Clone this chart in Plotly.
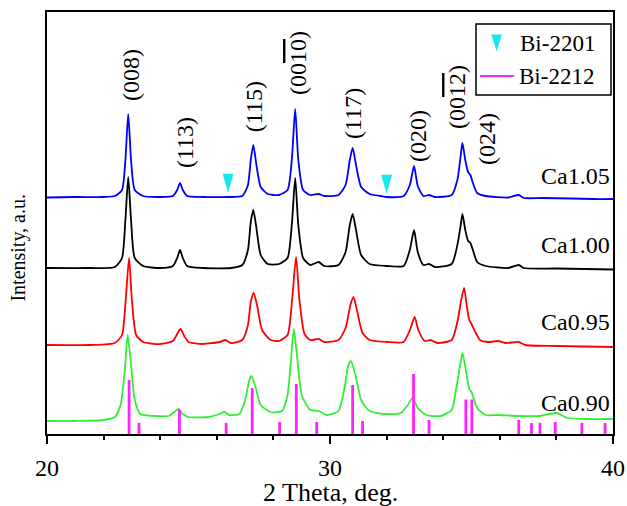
import plotly.graph_objects as go

# ---------------- data ----------------
theta_ca105 = [20.0, 21.0, 22.0, 22.4, 22.65, 22.77, 22.87, 22.97, 23.1, 23.4, 24.0, 24.45, 24.6, 24.7, 24.8, 24.95,
               25.5, 26.4, 26.9, 27.1, 27.2, 27.29, 27.4, 27.55, 27.8, 28.2, 28.5, 28.65, 28.77, 28.88, 29.05, 29.3,
               29.6, 29.8, 30.3, 30.55, 30.7, 30.8, 30.92, 31.1, 31.4, 31.8, 32.0, 32.6, 32.82, 32.97, 33.1, 33.3,
               33.5, 33.7, 34.3, 34.5, 34.62, 34.68, 34.78, 34.88, 34.96, 35.05, 35.2, 35.5, 36.3, 36.67, 36.85,
               37.5, 38.5, 39.3, 40.0]
int_ca105 = [236.5, 237, 237, 238, 244, 274, 320, 274, 244, 238, 237, 238, 244, 251, 244, 238,
             237, 237, 238, 249, 274, 289, 269, 247, 240, 239, 244, 274, 325, 274, 244, 239,
             240, 238, 239, 249, 274, 286, 269, 247, 240, 238, 237, 238, 249, 268, 248, 238,
             239, 237, 239, 254, 279, 291, 274, 262, 259, 251, 241, 238, 236.5, 239, 236,
             236, 235.5, 235, 235]

theta_ca100 = [20.0, 21.5, 22.4, 22.65, 22.77, 22.87, 22.97, 23.1, 23.4, 24.0, 24.45, 24.6, 24.7, 24.8, 24.95,
               25.5, 26.5, 26.9, 27.1, 27.2, 27.29, 27.4, 27.55, 27.8, 28.2, 28.5, 28.65, 28.77, 28.88, 29.05,
               29.3, 29.6, 29.8, 30.3, 30.55, 30.7, 30.8, 30.92, 31.1, 31.4, 32.0, 32.6, 32.82, 32.97, 33.1,
               33.3, 33.5, 33.7, 34.3, 34.5, 34.62, 34.68, 34.78, 34.88, 34.96, 35.05, 35.2, 35.5, 36.3, 36.67,
               36.85, 38.0, 40.0]
int_ca100 = [166, 166, 167, 176, 214, 257, 214, 176, 168, 166, 168, 176, 184, 176, 168,
             166, 166, 169, 184, 212, 224, 206, 179, 170, 170, 176, 209, 256, 209, 176,
             169, 172, 168, 169, 182, 209, 220, 204, 179, 170, 168, 168, 184, 204, 182,
             169, 170, 167, 170, 189, 209, 220, 204, 193, 191, 184, 172, 168, 166, 169,
             166, 165.5, 164.5]

theta_ca095 = [20.0, 21.5, 22.4, 22.65, 22.78, 22.9, 23.0, 23.15, 23.4, 24.0, 24.45, 24.6, 24.72, 24.85, 25.0,
               25.5, 26.1, 26.3, 26.5, 26.9, 27.1, 27.2, 27.3, 27.42, 27.6, 27.9, 28.2, 28.5, 28.66, 28.8,
               28.92, 29.1, 29.3, 29.6, 29.8, 30.3, 30.55, 30.72, 30.83, 30.95, 31.15, 31.4, 32.0, 32.6, 32.85,
               32.99, 33.12, 33.35, 33.55, 33.8, 34.3, 34.5, 34.65, 34.74, 34.83, 34.92, 34.98, 35.1, 35.3,
               35.6, 35.94, 36.2, 36.67, 36.9, 38.0, 40.0]
int_ca095 = [89, 89, 91, 99, 134, 176, 134, 99, 92, 90, 93, 100, 105, 98, 92,
             90, 92, 94, 91, 94, 109, 132, 141, 129, 104, 94, 93, 99, 134, 177,
             134, 100, 94, 95, 92, 94, 106, 129, 137, 124, 101, 94, 92, 92, 106,
             117, 104, 93, 94, 91, 94, 112, 136, 146, 129, 114, 111, 104, 94,
             92, 93, 91, 92, 89, 88, 87]

theta_ca090 = [20.0, 21.0, 22.0, 22.4, 22.6, 22.75, 22.85, 22.97, 23.1, 23.3, 23.8, 24.3, 24.5, 24.65, 24.8,
               25.0, 25.7, 26.1, 26.26, 26.45, 26.8, 27.0, 27.15, 27.22, 27.35, 27.55, 27.9, 28.3, 28.5, 28.62,
               28.72, 28.85, 29.0, 29.3, 29.6, 29.9, 30.3, 30.5, 30.65, 30.74, 30.9, 31.1, 31.4, 32.0, 32.5,
               32.75, 32.92, 33.1, 33.4, 33.9, 34.3, 34.45, 34.6, 34.68, 34.8, 34.92, 35.0, 35.2, 35.5, 35.94,
               36.67, 37.4, 38.0, 38.4, 39.0, 40.0]
int_ca090 = [13, 13, 14, 17, 29, 64, 99, 69, 34, 20, 18, 18, 22, 25, 20,
             17, 17, 20, 22, 19, 20, 34, 54, 58, 49, 29, 22, 23, 39, 74,
             105, 74, 39, 24, 23, 19, 23, 44, 69, 73, 59, 34, 23, 20, 21,
             29, 36, 26, 19, 18, 24, 44, 69, 81, 64, 45, 42, 26, 19, 19,
             18, 18, 21, 16, 15, 15]

# Bi-2212 reference lines
theta_bi2212 = [22.90, 23.25, 24.68, 26.33, 27.25, 28.22, 28.81, 29.53, 30.80, 31.15,
                32.95, 33.50, 34.80, 35.01, 36.67, 37.12, 37.42, 37.96, 38.90, 39.72]
height_bi2212 = [54, 11, 24, 11, 46, 12, 50, 12, 49, 13,
                 60, 14, 34.5, 34.5, 14, 11, 11, 12, 11, 11]

# Bi-2201 markers (tip positions)
theta_bi2201 = [26.40, 32.00]
tip_bi2201 = [242, 241]

series_names = ["Ca1.05", "Ca1.00", "Ca0.95", "Ca0.90"]
series_label_y = [258, 189, 112, 31]

peak_labels = ["(008)", "(113)", "(115)",
               "(00<span style=\"text-decoration:overline\">10</span>)",
               "(117)", "(020)",
               "(00<span style=\"text-decoration:overline\">12</span>)",
               "(024)"]
peak_label_x = [22.97, 24.88, 27.32, 28.87, 30.81, 33.11, 34.49, 35.55]
peak_label_y = [359, 291, 327, 371, 321, 298, 337, 295]

legend_names = ["Bi-2201", "Bi-2212"]

# ---------------- styling ----------------
FONT = "Liberation Serif, Times New Roman, serif"
colors = ["#0000ff", "#000000", "#ff0000", "#33ee33"]
CYAN = "#19e6ef"
MAGENTA = "#ff22ff"
thetas = [theta_ca105, theta_ca100, theta_ca095, theta_ca090]
ints = [int_ca105, int_ca100, int_ca095, int_ca090]

fig = go.Figure()

for name, tx, iy, c in zip(series_names, thetas, ints, colors):
    fig.add_trace(go.Scatter(x=tx, y=iy, mode="lines",
                             line=dict(color=c, width=1.8, shape="spline", smoothing=0.6),
                             name=name, showlegend=False))

# Bi-2212 sticks
sx, sy = [], []
for t, h in zip(theta_bi2212, height_bi2212):
    sx += [t, t, None]
    sy += [0, h, None]
fig.add_trace(go.Scatter(x=sx, y=sy, mode="lines", line=dict(color=MAGENTA, width=2.8),
                         name=legend_names[1], showlegend=False))

# Bi-2201 triangles (narrow, pointing down)
half_w = 0.18
tri_h = 18
tx_, ty_ = [], []
for t, tip in zip(theta_bi2201, tip_bi2201):
    tx_ += [t - half_w, t + half_w, t, t - half_w, None]
    ty_ += [tip + tri_h, tip + tri_h, tip, tip + tri_h, None]
fig.add_trace(go.Scatter(x=tx_, y=ty_, mode="lines", fill="toself", fillcolor=CYAN,
                         line=dict(color=CYAN, width=0.5), name=legend_names[0],
                         showlegend=False, hoverinfo="skip"))

annotations = []
for name, yv in zip(series_names, series_label_y):
    annotations.append(dict(x=40, y=yv, xref="x", yref="y", text=name, showarrow=False,
                            xanchor="right", yanchor="middle", xshift=-1,
                            font=dict(family=FONT, size=24, color="black")))
for txt, xv, yv in zip(peak_labels, peak_label_x, peak_label_y):
    annotations.append(dict(x=xv, y=yv, xref="x", yref="y", text=txt, showarrow=False,
                            textangle=-90, xanchor="center", yanchor="middle",
                            font=dict(family=FONT, size=24, color="black")))
annotations.append(dict(x=30, y=-0.139, xref="x", yref="paper", text="2 Theta, deg.",
                        showarrow=False, xanchor="center", yanchor="middle",
                        font=dict(family=FONT, size=26, color="black")))
annotations.append(dict(x=-0.052, y=186, xref="paper", yref="y", text="Intensity, a.u.",
                        showarrow=False, textangle=-90, xanchor="center", yanchor="middle",
                        font=dict(family=FONT, size=20, color="black")))

# legend box drawn by hand (paper coordinates)
lx0, lx1, ly0, ly1 = 0.758, 0.9965, 0.8033, 0.9716
shapes = [
    dict(type="rect", xref="paper", yref="paper", x0=lx0, x1=lx1, y0=ly0, y1=ly1,
         line=dict(color="black", width=1.5), fillcolor="white", layer="above"),
    dict(type="path", xref="paper", yref="paper",
         path="M 0.7857 0.9463 L 0.8033 0.9463 L 0.7945 0.9083 Z",
         fillcolor=CYAN, line=dict(color=CYAN, width=0.5), layer="above"),
    dict(type="line", xref="paper", yref="paper", x0=0.7650, x1=0.8251, y0=0.8483, y1=0.8483,
         line=dict(color=MAGENTA, width=2), layer="above"),
]
annotations.append(dict(x=0.8322, y=0.9258, xref="paper", yref="paper", text=legend_names[0],
                        showarrow=False, xanchor="left", yanchor="middle",
                        font=dict(family=FONT, size=23, color="black")))
annotations.append(dict(x=0.8304, y=0.8483, xref="paper", yref="paper", text=legend_names[1],
                        showarrow=False, xanchor="left", yanchor="middle",
                        font=dict(family=FONT, size=23, color="black")))

fig.update_layout(
    width=627, height=506,
    margin=dict(l=47, r=14, t=12, b=72, autoexpand=False),
    paper_bgcolor="white", plot_bgcolor="white",
    font=dict(family=FONT, color="black"),
    showlegend=False,
    annotations=annotations,
    shapes=shapes,
    xaxis=dict(range=[20, 40], dtick=10, tick0=20, showgrid=False, zeroline=False,
               automargin=False,
               showline=True, linecolor="black", linewidth=1.5, mirror=True,
               ticks="outside", ticklen=8, tickwidth=1.5, tickcolor="black",
               minor=dict(dtick=2, ticks="outside", ticklen=4, tickwidth=1.5, tickcolor="black"),
               tickfont=dict(family=FONT, size=24, color="black"),
               ticklabelstandoff=3),
    yaxis=dict(range=[0, 422], showgrid=False, zeroline=False, showticklabels=False,
               automargin=False,
               showline=True, linecolor="black", linewidth=1.5, mirror=True, ticks=""),
)

fig.write_html("out.html")
